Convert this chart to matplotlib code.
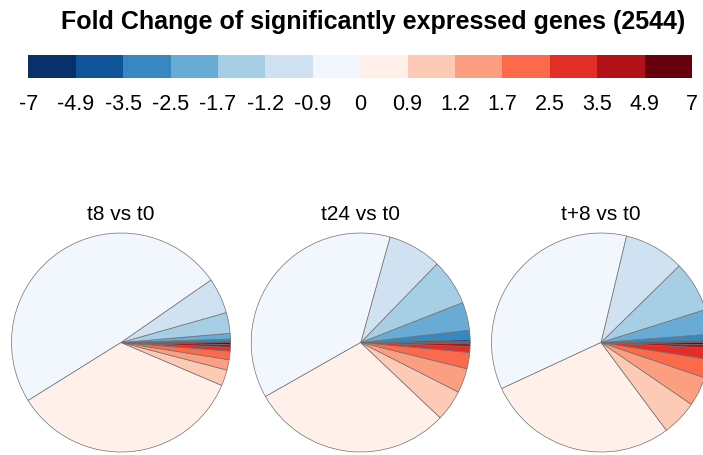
import matplotlib
matplotlib.use("Agg")
import matplotlib.pyplot as plt

plt.rcParams['font.family'] = ['Liberation Sans', 'DejaVu Sans']

title = "Fold Change of significantly expressed genes (2544)"
tick_labels = ["-7", "-4.9", "-3.5", "-2.5", "-1.7", "-1.2", "-0.9", "0",
               "0.9", "1.2", "1.7", "2.5", "3.5", "4.9", "7"]
palette = ["#08306B", "#10559A", "#3787C0", "#68ACD5", "#A6CEE4", "#D0E1F2", "#F2F7FD",
           "#FFF0E9", "#FDCAB5", "#FC9F81", "#FB6A4A", "#E22E27", "#B11218", "#67000D"]

comparisons = ["t8 vs t0", "t24 vs t0", "t+8 vs t0"]
t8_counts = [2, 4, 7, 21, 78, 134, 1252, 883, 60, 39, 32, 14, 11, 7]
t24_counts = [3, 8, 35, 105, 173, 202, 955, 756, 117, 92, 61, 22, 11, 4]
tp8_counts = [3, 5, 23, 93, 190, 227, 907, 719, 134, 110, 70, 42, 13, 8]
all_counts = [t8_counts, t24_counts, tp8_counts]

W, H = 703, 455
fig = plt.figure(figsize=(W / 100, H / 100), dpi=100)

# Title
fig.text(373 / W, 1 - 29 / H, title, ha='center', va='baseline',
         fontsize=18, fontweight='bold')

# Colour key
cax = fig.add_axes([28.3 / W, 1 - 78.3 / H, (692 - 28.3) / W, 23.6 / H])
cax.bar(range(len(palette)), [1] * len(palette), width=1.0, align='edge',
        color=palette, edgecolor='none')
cax.set_xlim(0, len(palette))
cax.set_ylim(0, 1)
cax.set_yticks([])
cax.set_xticks(range(len(tick_labels)))
cax.set_xticklabels(tick_labels, fontsize=15.5)
cax.tick_params(axis='x', length=0, pad=11)
for s in cax.spines.values():
    s.set_visible(False)

# Pies
ax = fig.add_axes([0, 0, 1, 1])
centers = [(121, 112.5), (360.7, 112.5), (601, 112.5)]
radius = 109.5
for counts, (cx, cy), name in zip(all_counts, centers, comparisons):
    ax.pie(counts, colors=palette, startangle=0, counterclock=True,
           center=(cx, cy), radius=radius,
           wedgeprops=dict(edgecolor='#707070', linewidth=0.5))
    ax.text(cx, H - 215, name, ha='center', va='center', fontsize=15)
ax.set_xlim(0, W)
ax.set_ylim(0, H)
ax.set_aspect('auto')
ax.axis('off')

fig.savefig("out.png", dpi=100)
